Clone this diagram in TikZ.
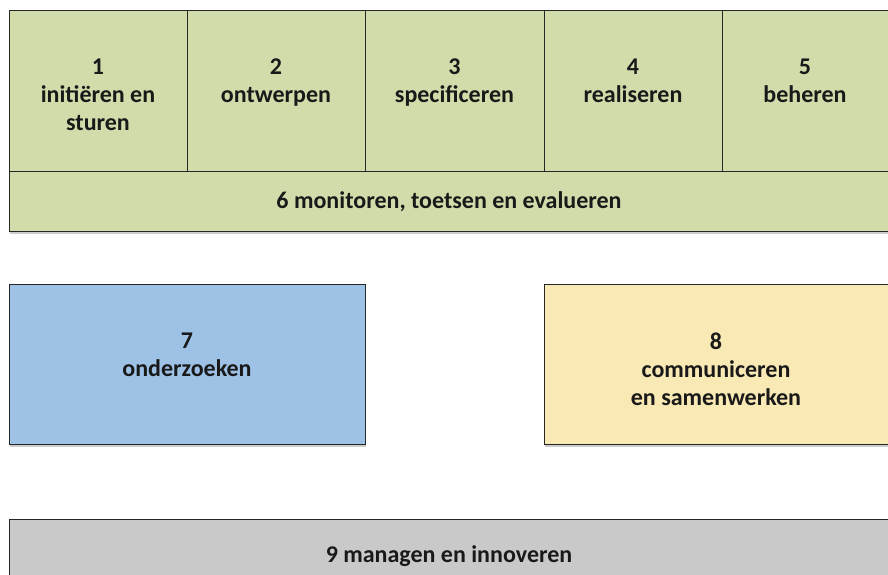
\documentclass[tikz,border=0pt]{standalone}
\usepackage{fontspec}
\setmainfont{Carlito}
\usetikzlibrary{shadows}
\definecolor{lgreen}{RGB}{208,221,171}
\definecolor{lblue}{RGB}{157,194,230}
\definecolor{lyellow}{RGB}{249,233,180}
\definecolor{lgray}{RGB}{201,201,201}
\tikzset{
  box/.style={rectangle, draw=black!85, line width=1pt, inner sep=0pt,
    drop shadow={shadow xshift=1pt, shadow yshift=-2.5pt, fill=black!40, opacity=0.5}},
  flat/.style={rectangle, draw=black!85, line width=1pt, inner sep=0pt},
  lbl/.style={inner sep=0pt, align=center, font=\bfseries\fontsize{24}{28}\selectfont, text=black!90},
}
\begin{document}
\begin{tikzpicture}[x=1pt,y=-1pt]
\useasboundingbox (0,0) rectangle (888,575);
% top block
\node[box, fill=lgreen, minimum width=881pt, minimum height=220pt] (top) at (449.5,121) {};
\node[flat, fill=lgreen, minimum width=178pt, minimum height=160pt] (b1) at (98,91) {};
\node[flat, fill=lgreen, minimum width=178pt, minimum height=160pt] (b2) at (276,91) {};
\node[flat, fill=lgreen, minimum width=179pt, minimum height=160pt] (b3) at (454.5,91) {};
\node[flat, fill=lgreen, minimum width=178pt, minimum height=160pt] (b4) at (633,91) {};
\node[flat, fill=lgreen, minimum width=168pt, minimum height=160pt] (b5) at (806,91) {};
\node[flat, fill=lgreen, minimum width=881pt, minimum height=60pt] (b6) at (449.5,201) {};
\node[lbl, anchor=north] (t1) at (98,58.8) {1\\initiëren en\\sturen};
\node[lbl, anchor=north] (t2) at (276,58.8) {2\\ontwerpen};
\node[lbl, anchor=north] (t3) at (454.5,58.8) {3\\specificeren};
\node[lbl, anchor=north] (t4) at (633,58.8) {4\\realiseren};
\node[lbl, anchor=north] (t5) at (805,58.8) {5\\beheren};
\node[lbl, anchor=base] (t6) at (449,208) {6 monitoren, toetsen en evalueren};
% middle
\node[box, fill=lblue, minimum width=356pt, minimum height=160pt] (b7) at (187,364) {};
\node[box, fill=lyellow, minimum width=346pt, minimum height=160pt] (b8) at (717,364) {};
\node[lbl, anchor=north] (t7) at (187,332.8) {7\\onderzoeken};
\node[lbl, anchor=north] (t8) at (716,332.8) {8\\communiceren\\en samenwerken};
% bottom
\node[box, fill=lgray, minimum width=881pt, minimum height=70pt] (b9) at (449.5,554) {};
\node[lbl, anchor=base] (t9) at (449,562) {9 managen en innoveren};
\end{tikzpicture}
\end{document}
